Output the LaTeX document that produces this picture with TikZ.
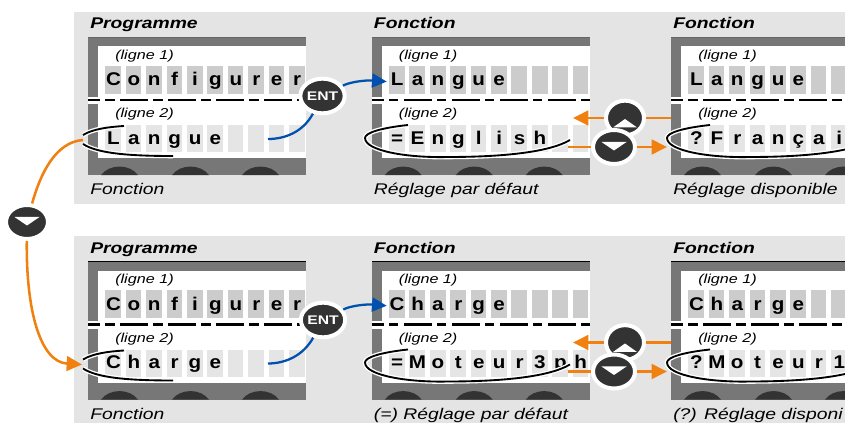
\documentclass[tikz,border=0pt]{standalone}
\usepackage{xcolor}
\usepackage{fontspec}
\setmainfont[FakeStretch=1.25]{Liberation Sans}
\newfontfamily\wordfont[FakeStretch=1.12]{Liberation Sans}
\usetikzlibrary{arrows.meta}
\usetikzlibrary{shapes.geometric}
\definecolor{panelgrey}{HTML}{E4E4E4}
\definecolor{framegrey}{HTML}{777777}
\definecolor{keydark}{HTML}{333333}
\definecolor{linkorange}{HTML}{F08010}
\definecolor{linkblue}{HTML}{0050B0}
\makeatletter
\newcommand{\cellword}[1]{\@tfor\cellchar:=#1\do{\makebox[15.3pt]{\cellchar}}}
\makeatother
\tikzset{
title text/.style = { anchor = base west, inner sep = 0pt, font = \fontsize{11.6}{12}\selectfont\bfseries\itshape },
caption text/.style = { anchor = base west, inner sep = 0pt, font = \fontsize{11.6}{12}\selectfont\itshape },
line text/.style = { anchor = base west, inner sep = 0pt, font = \fontsize{9.7}{10}\selectfont\itshape },
word text/.style = { anchor = base west, inner sep = 0pt, font = \wordfont\fontsize{13.8}{14}\selectfont\bfseries },
key/.style = { ellipse, fill = keydark, draw = white, line width = 3pt, inner sep = 0pt, minimum width = 28.5pt, minimum height = 26pt },
big key/.style = { key, minimum width = 31.5pt, minimum height = 25.5pt },
ent key/.style = { key, text = white, font = \fontsize{9.4}{10}\selectfont\bfseries },
orange link/.style = { draw = linkorange, line width = 1.9pt },
orange arrow/.style = { orange link, -{Triangle[length = 11.5pt, width = 11pt]} },
blue link/.style = { draw = linkblue, line width = 1.7pt },
ring line/.style = { draw = black, line width = 1.4pt, preaction = { draw = white, line width = 3.4pt } },
}
\tikzset{
pics/lcd panel/.style args={#1, #2, #3, #4, #5}{
        code = {
        \fill[framegrey] (0, 0) rectangle (218, 138.5);
        \fill[#5] (0, 0) rectangle (218, 1);
        \fill[white] (10, 9.5) rectangle (218, 121.5);
        \foreach \cell in {0,...,9} {
            \fill[black!20] ({17.3 + 20.4 * \cell}, 29) rectangle ++(15.7, 28);
            \fill[black!10] ({17.3 + 20.4 * \cell}, 88.5) rectangle ++(15.7, 27);
        }
        \fill[white] (0, 60) rectangle (218, 67.5);
        \draw[black, line width = 1.8pt, dash pattern = on 21pt off 4pt on 7pt off 4pt, dash phase = 12pt] (0, 63.5) -- (218, 63.5);
        \foreach \knob in {13, 84, 154} {
            \fill[keydark] (\knob, 138.5) .. controls (\knob + 8, 127) and (\knob + 29, 127) .. (\knob + 37, 138.5) -- cycle;
        }
        \node[title text] (-title) at (2, -7.7) {#1};
        \node[line text] (-one) at (27, 22.8) {(ligne 1)};
        \node[line text] (-two) at (27, 81.3) {(ligne 2)};
        \node[word text] (-top) at (15, 49.3) {\cellword{#2}};
        \node[word text] (-low) at (15, 107.6) {\cellword{#3}};
        \node[caption text] (-caption) at (2, 158.3) {#4};
        }
    },
pics/select ring/.style={
        code = {
        \draw[ring line] (0, 0) .. controls (-28, 3) and (-43, 8) .. (-43, 13) .. controls (-43, 26) and (0, 33) .. (40, 32) .. controls (90, 32) and (140, 28) .. (162, 15);
        }
    },
pics/select tail/.style={
        code = {
        \draw[ring line] (0, -5) .. controls (10, -11) and (25, -13) .. (41, -14);
        \draw[ring line] (0, 4) .. controls (15, 14) and (50, 16) .. (90, 16);
        }
    },
pics/up key/.style={
        code = {
        \node[key] (-knob) at (0, 0) {};
        \fill[white] (-12, 9.5) -- (12, 9.5) -- (0, 1) -- cycle;
        }
    },
pics/down key/.style={
        code = {
        \node[big key] (-knob) at (0, 0) {};
        \fill[white] (-12.5, -5) -- (12.5, -5) -- (0, 3.5) -- cycle;
        }
    }
}
\begin{document}
\begin{tikzpicture}[x = 0.75pt, y = -0.75pt]
      \clip (0, 0) rectangle (845, 423);
      \fill[white] (0, 0) rectangle (845, 423);
      \fill[panelgrey] (74, 12) rectangle (845, 204);
      \fill[panelgrey] (74, 236) rectangle (845, 423);
      % first row
      \draw (88, 36.7) pic (progA) {lcd panel = {Programme, Configurer, Langue, Fonction, black!60}};
      \draw (371.7, 36.7) pic (foncA) {lcd panel = {Fonction, Langue, =English, Réglage par défaut, black!60}};
      \draw (671, 36.7) pic (dispA) {lcd panel = {Fonction, Langue, ?Françai, Réglage disponible, black!60}};
      % second row
      \draw (88, 261.2) pic (progB) {lcd panel = {Programme, Configurer, Charge, Fonction, black}};
      \draw (371.7, 261.2) pic (foncB) {lcd panel = {Fonction, Charge, =Moteur3ph, (=) Réglage par défaut, black}};
      \draw (671, 261.2) pic (dispB) {lcd panel = {Fonction, Charge, ?Moteur1, (?) Réglage disponi, black}};
      \draw (83, 140) pic{select tail};
      \draw (83, 364.5) pic{select tail};
      \draw (408, 125) pic{select ring};
      \draw (710, 125) pic{select ring};
      \draw (408, 349.5) pic{select ring};
      \draw (710, 349.5) pic{select ring};
      \node[ent key] (entA) at (322.5, 96) {ENT};
      \node[ent key] (entB) at (323, 320) {ENT};
      \draw (27, 222) pic (leftkey) {down key};
      \draw (625, 118) pic (upA) {up key};
      \draw (614, 147) pic (downA) {down key};
      \draw (625, 342.5) pic (upB) {up key};
      \draw (614, 371.5) pic (downB) {down key};
      \coordinate (wordA) at (268, 139);
      \coordinate (wordB) at (268, 363.5);
      \coordinate (tailA) at (83, 140);
      \coordinate (tailB) at (82, 364.5);
      \coordinate (upinA) at (671, 118);
      \coordinate (upoutA) at (573, 118);
      \coordinate (downinA) at (568, 147);
      \coordinate (downoutA) at (667, 147);
      \coordinate (upinB) at (671, 342.5);
      \coordinate (upoutB) at (573, 342.5);
      \coordinate (downinB) at (568, 371.5);
      \coordinate (downoutB) at (667, 371.5);
      \draw[blue link] (entA) .. controls (303, 132) and (285, 139) .. (wordA);
      \draw[blue link] (entB) .. controls (303, 356) and (285, 363.5) .. (wordB);
      \draw[blue link, -{Triangle[length = 11pt, width = 10.5pt]}] (entA) .. controls (350, 82) and (365, 80) .. (foncA-top.west);
      \draw[blue link, -{Triangle[length = 11pt, width = 10.5pt]}] (entB) .. controls (350, 306) and (365, 304) .. (foncB-top.west);
      \draw[orange link] (tailA) .. controls (55, 142) and (40, 175) .. (leftkey-knob);
      \draw[orange arrow] (leftkey-knob) .. controls (26, 310) and (40, 362) .. (tailB);
      \draw[orange link] (upinA) -- (upA-knob);
      \draw[orange arrow] (upA-knob) -- (upoutA);
      \draw[orange link] (downinA) -- (downA-knob);
      \draw[orange arrow] (downA-knob) -- (downoutA);
      \draw[orange link] (upinB) -- (upB-knob);
      \draw[orange arrow] (upB-knob) -- (upoutB);
      \draw[orange link] (downinB) -- (downB-knob);
      \draw[orange arrow] (downB-knob) -- (downoutB);
    \end{tikzpicture}
\end{document}
